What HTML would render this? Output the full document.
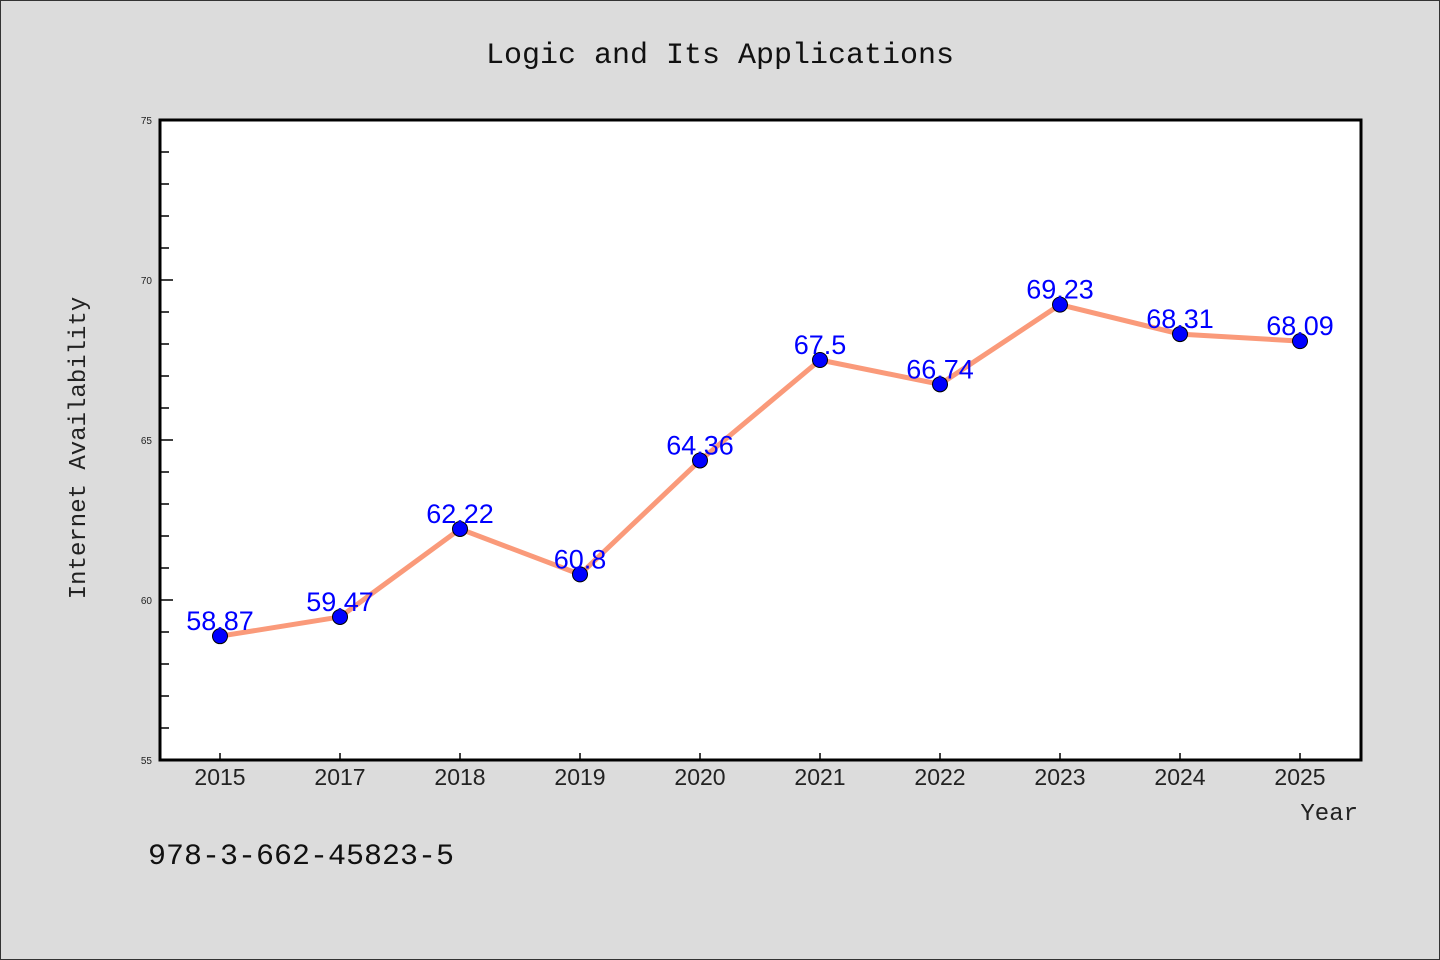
<!DOCTYPE html>
<html><head><meta charset="utf-8"><style>
body{margin:0;background:#dcdcdc;}
svg{display:block;}
</style></head><body>
<svg width="1440" height="960" xmlns="http://www.w3.org/2000/svg">
<rect x="0.5" y="0.5" width="1439" height="959" fill="#dcdcdc" stroke="#333" stroke-width="1"/>
<text x="720" y="63" text-anchor="middle" font-family="'WenQuanYi Zen Hei','Liberation Mono',monospace" font-size="30" fill="#111">Logic and Its Applications</text>
<rect x="160" y="120" width="1201" height="640" fill="#fff"/>
<g id="ticks"></g>
<g id="series"></g>
<rect x="160" y="120" width="1201" height="640" fill="none" stroke="#000" stroke-width="3"/>
<text transform="translate(85,448) rotate(-90)" text-anchor="middle" font-family="'WenQuanYi Zen Hei','Liberation Mono',monospace" font-size="24" fill="#222">Internet Availability</text>
<text x="1358" y="820" text-anchor="end" font-family="'WenQuanYi Zen Hei','Liberation Mono',monospace" font-size="24" fill="#222">Year</text>
<text x="148" y="864" font-family="'WenQuanYi Zen Hei','Liberation Mono',monospace" font-size="30" fill="#111">978-3-662-45823-5</text>
</svg>
<script>
const categories=["2015","2017","2018","2019","2020","2021","2022","2023","2024","2025"];
const values=[58.87,59.47,62.22,60.8,64.36,67.5,66.74,69.23,68.31,68.09];
const labels=["58.87","59.47","62.22","60.8","64.36","67.5","66.74","69.23","68.31","68.09"];
const yTicks=[55,60,65,70,75];
const yMin=55,yMax=75,pLeft=160,pRight=1360,pTop=120,pBottom=760;
const NS="http://www.w3.org/2000/svg";
function xs(i){return pLeft+(pRight-pLeft)/categories.length*(i+0.5);}
function ys(v){return pBottom-(v-yMin)/(yMax-yMin)*(pBottom-pTop);}
function mk(t,a,p){const e=document.createElementNS(NS,t);for(const k in a)e.setAttribute(k,a[k]);p.appendChild(e);return e;}
const tg=document.getElementById('ticks'),sg=document.getElementById('series');
for(let v=yMin;v<=yMax;v++){
  const major=yTicks.includes(v);
  const l=mk('line',{x1:pLeft,x2:pLeft+(major?13:9),y1:ys(v),y2:ys(v),stroke:'#000','stroke-width':1.5},tg);
  
  
}
yTicks.forEach(v=>{
  const t=mk('text',{x:pLeft-8,y:ys(v)+4,'text-anchor':'end','font-family':'Liberation Sans, sans-serif','font-size':10,fill:'#222'},tg);
  t.textContent=v;
  
  
});
categories.forEach((c,i)=>{
  const l=mk('line',{x1:xs(i),x2:xs(i),y1:pBottom,y2:pBottom-7,stroke:'#000','stroke-width':1.5},tg);
  
  
  const t=mk('text',{x:xs(i),y:pBottom+25,'text-anchor':'middle','font-family':'Liberation Sans, sans-serif','font-size':23,fill:'#222'},tg);
  t.textContent=c;
  
  
});
const pl=mk('polyline',{points:values.map((v,i)=>xs(i)+','+ys(v)).join(' '),fill:'none',stroke:'#fa9a7a','stroke-width':5,'stroke-linejoin':'round'},sg);


values.forEach((v,i)=>{
  const c=mk('circle',{cx:xs(i),cy:ys(v),r:7.5,fill:'#0000ff',stroke:'#000','stroke-width':1},sg);
  
  
});
values.forEach((v,i)=>{
  const t=mk('text',{x:xs(i),y:ys(v)-6,'text-anchor':'middle','font-family':'Liberation Sans, sans-serif','font-size':27,fill:'#0000ff'},sg);
  t.textContent=labels[i];
  
  
});
</script>
</body></html>
